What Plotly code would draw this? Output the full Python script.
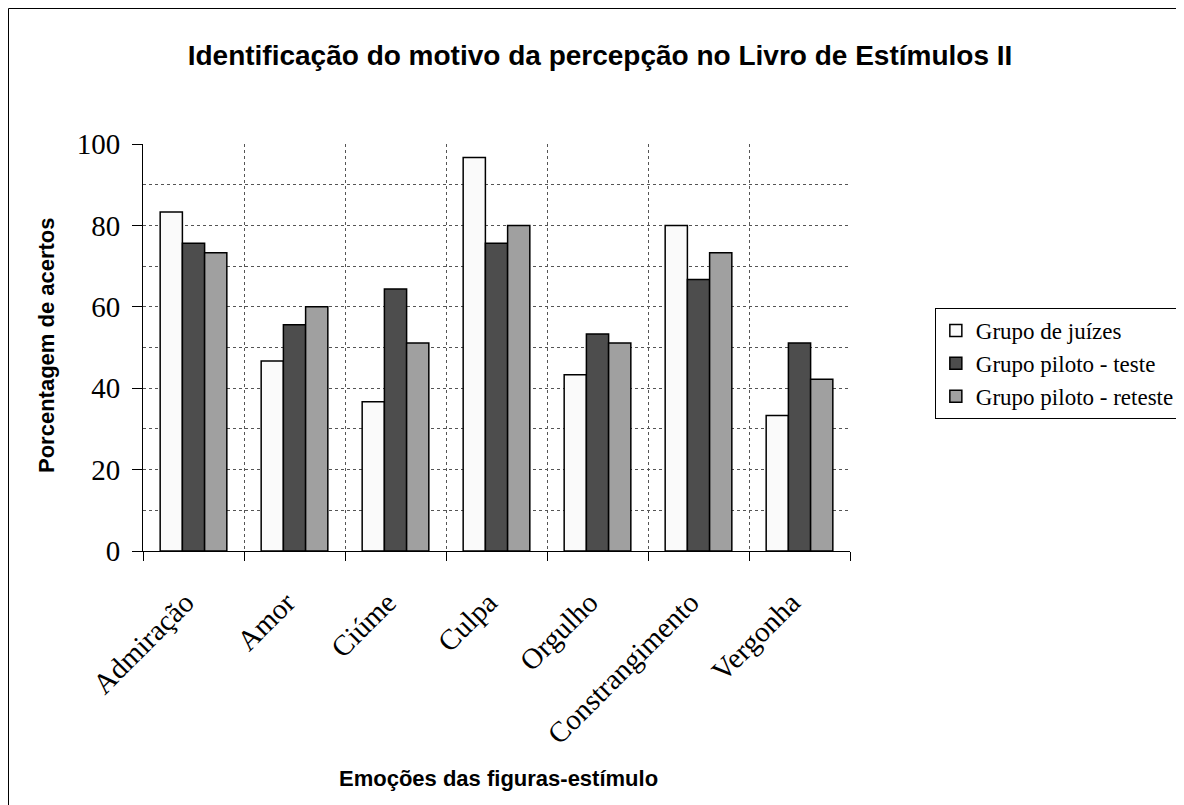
import plotly.graph_objects as go

emocoes = ["Admiração", "Amor", "Ciúme", "Culpa", "Orgulho", "Constrangimento", "Vergonha"]
juizes = [83.3, 46.7, 36.7, 96.7, 43.3, 80.0, 33.3]
piloto_teste = [75.6, 55.6, 64.4, 75.6, 53.3, 66.7, 51.1]
piloto_reteste = [73.3, 60.0, 51.1, 80.0, 51.1, 73.3, 42.2]

SERIF = "Liberation Serif, Times New Roman, serif"
SANS = "Liberation Sans, Arial, sans-serif"

series = [
    ("Grupo de juízes", juizes, "#fafafa"),
    ("Grupo piloto - teste", piloto_teste, "#4d4d4d"),
    ("Grupo piloto - reteste", piloto_reteste, "#a0a0a0"),
]

fig = go.Figure()
for name, vals, color in series:
    fig.add_trace(go.Bar(
        x=emocoes, y=vals, name=name,
        marker=dict(color=color, line=dict(color="black", width=1.5)),
    ))

fig.update_layout(
    width=1184, height=805,
    paper_bgcolor="white", plot_bgcolor="white",
    margin=dict(l=135, r=342, t=136, b=262, autoexpand=False),
    bargap=0.34, bargroupgap=0,
    font=dict(family=SERIF, color="black"),
    title=dict(
        text="<b>Identificação do motivo da percepção no Livro de Estímulos II</b>",
        font=dict(family=SANS, size=28, color="black"),
        x=0.5, xanchor="center", xref="container",
        y=1 - 47 / 805, yanchor="middle", yref="container",
    ),
    legend=dict(
        x=1.12, y=0.597, xanchor="left", yanchor="top",
        bordercolor="black", borderwidth=1, bgcolor="white",
        font=dict(family=SERIF, size=23, color="black"),
        itemclick=False,
    ),
)

fig.update_xaxes(
    tickson="boundaries", showgrid=True, gridcolor="#555", griddash="dot", gridwidth=1,
    ticks="outside", ticklen=9, tickcolor="black",
    showline=True, linecolor="black", linewidth=1,
    tickangle=-45, tickfont=dict(family=SERIF, size=29, color="black"),
    ticklabelstandoff=22, ticklabelshift=-8, automargin=False,
)
fig.update_yaxes(
    range=[0, 100], dtick=20, showgrid=True, gridcolor="#555", griddash="dot", gridwidth=1,
    minor=dict(dtick=10, showgrid=True, gridcolor="#555", griddash="dot", ticks=""),
    ticks="outside", ticklen=10, tickcolor="black",
    showline=True, linecolor="black", linewidth=1, zeroline=False,
    tickfont=dict(family=SERIF, size=29, color="black"),
    ticklabelstandoff=6, automargin=False,
)

fig.add_annotation(
    text="<b>Porcentagem de acertos</b>", textangle=-90,
    xref="paper", yref="paper", x=(46 - 143) / 707, y=(551 - 345) / 407,
    xanchor="center", yanchor="middle",
    showarrow=False, font=dict(family=SANS, size=22, color="black"),
)
fig.add_annotation(
    text="<b>Emoções das figuras-estímulo</b>",
    xref="paper", yref="paper", x=(498 - 143) / 707, y=(551 - 778) / 407,
    xanchor="center", yanchor="middle",
    showarrow=False, font=dict(family=SANS, size=22, color="black"),
)

# chart frame
fig.add_shape(
    type="rect", xref="paper", yref="paper",
    x0=(8.5 - 143) / 707, x1=(1300 - 143) / 707,
    y0=(551 - 812) / 407, y1=(551 - 8.5) / 407,
    line=dict(color="black", width=1), layer="below",
)

fig.write_html("out.html")
